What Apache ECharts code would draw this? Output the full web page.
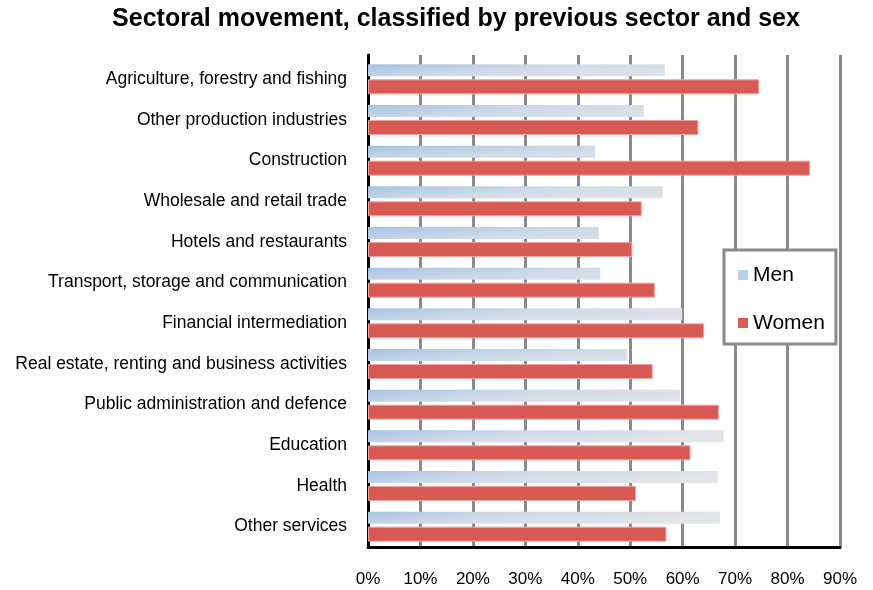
<!DOCTYPE html>
<html>
<head>
<meta charset="utf-8">
<script src="https://cdn.jsdelivr.net/npm/echarts@6/dist/echarts.min.js"></script>
<style>html,body{margin:0;padding:0;background:#fff;}#c{width:873px;height:590px;}</style>
</head>
<body>
<div id="c"></div>
<script>
const categories = [
  "Agriculture, forestry and fishing",
  "Other production industries",
  "Construction",
  "Wholesale and retail trade",
  "Hotels and restaurants",
  "Transport, storage and communication",
  "Financial intermediation",
  "Real estate, renting and business activities",
  "Public administration and defence",
  "Education",
  "Health",
  "Other services"
];
const menValues = [56.6, 52.6, 43.3, 56.2, 44.0, 44.3, 59.9, 49.4, 59.5, 67.8, 66.7, 67.1];
const womenValues = [74.6, 63.0, 84.3, 52.2, 50.4, 54.7, 64.1, 54.3, 66.9, 61.5, 51.1, 56.9];
const xTicks = { min: 0, max: 90, interval: 10 };

const chart = echarts.init(document.getElementById('c'), null, { renderer: 'canvas' });
const font = '"Liberation Sans", Arial, sans-serif';
const menGradient = new echarts.graphic.LinearGradient(0, 0, 0.012, 3.3, [
  { offset: 0, color: '#a6c3e3' },
  { offset: 0.45, color: '#d0dbe8' },
  { offset: 1, color: '#e1e4e9' }
]);
chart.setOption({
  animation: false,
  backgroundColor: '#ffffff',
  title: {
    text: 'Sectoral movement, classified by previous sector and sex',
    left: 451, top: 2, textAlign: 'center',
    textStyle: { fontFamily: font, fontSize: 25, fontWeight: 'bold', color: '#000' }
  },
  legend: {
    orient: 'vertical',
    left: 724, top: 250,
    data: [
      { name: 'Men', itemStyle: { color: '#b8d0ea', borderWidth: 0 } },
      { name: 'Women', itemStyle: { color: '#d95a55', borderWidth: 0 } }
    ],
    icon: 'rect',
    itemWidth: 10, itemHeight: 10, itemGap: 26,
    padding: [14, 11, 10, 14],
    borderColor: '#8a8a8a', borderWidth: 3, backgroundColor: '#fff',
    textStyle: { fontFamily: font, fontSize: 21, color: '#000', lineHeight: 22 }
  },
  grid: [
    { left: 368, right: 33, top: 55, bottom: 43, containLabel: false },
    { left: 368, right: 33, top: 59, bottom: 43, containLabel: false }
  ],
  xAxis: [
    {
      type: 'value', gridIndex: 0, min: xTicks.min, max: xTicks.max, interval: xTicks.interval,
      axisLine: { show: true, lineStyle: { color: '#000', width: 3 } },
      axisTick: { show: false },
      axisLabel: { formatter: '{value}%', margin: 24, fontFamily: font, fontSize: 17, color: '#000' },
      splitLine: { show: true, lineStyle: { color: '#8a8a8a', width: 3 } }
    },
    {
      type: 'value', gridIndex: 1, min: xTicks.min, max: xTicks.max, interval: xTicks.interval,
      show: false
    }
  ],
  yAxis: [
    {
      type: 'category', gridIndex: 0, data: categories, inverse: true,
      axisLine: { show: true, onZero: false, lineStyle: { color: '#000', width: 3 } },
      axisTick: { show: false },
      axisLabel: { show: false },
      splitLine: { show: false }
    },
    {
      type: 'category', gridIndex: 1, data: categories, inverse: true,
      axisLine: { show: false },
      axisTick: { show: false },
      axisLabel: { margin: 21, fontFamily: font, fontSize: 17.5, color: '#000' },
      splitLine: { show: false }
    }
  ],
  series: [
    {
      name: 'Men', type: 'bar', data: menValues, xAxisIndex: 1, yAxisIndex: 1, z: 3,
      barWidth: 12, barGap: '25%',
      itemStyle: { color: menGradient }
    },
    {
      name: 'Women', type: 'bar', data: womenValues, xAxisIndex: 1, yAxisIndex: 1, z: 3,
      barWidth: 15, barGap: '25%',
      itemStyle: { color: '#d95a55', borderColor: '#f0a3a0', borderWidth: 1 }
    }
  ]
});
</script>
</body>
</html>
